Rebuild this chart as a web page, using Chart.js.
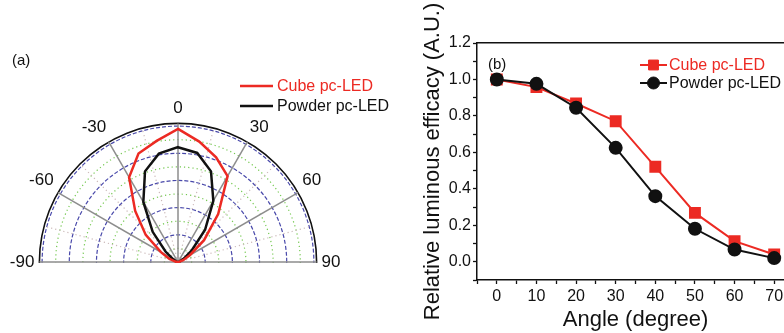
<!doctype html>
<html lang="en">
<head>
    <meta charset="utf-8">
    <title>pc-LED angular distribution</title>
    <style>
        * {
            margin: 0;
            padding: 0;
        }

        body {
            background: #fff;
            overflow: hidden;
        }

        .stage {
            position: relative;
            width: 784px;
            height: 333px;
            overflow: hidden;
            background: #fff;
        }

        .stage canvas {
            position: absolute;
        }
    </style>
</head>
<body>
<div class="stage">
    <canvas id="polarChart" width="440" height="426" style="left:-42px;top:0;"></canvas>
    <canvas id="lineChart" width="420" height="333" style="left:400px;top:0;"></canvas>
</div>
<script src="https://cdn.jsdelivr.net/npm/chart.js"></script>
<script>
    const FONT = "'Liberation Sans', Arial, sans-serif";
    const RED = '#ec2a23';
    const BLACK = '#111111';

    // (a) polar plot, angle from the normal
    const polarAngles = [-90, -80, -70, -60, -50, -40, -30, -20, -10, 0, 10, 20, 30, 40, 50, 60, 70, 80, 90];
    const cubePolar = [0, 0.02, 0.07, 0.145, 0.31, 0.49, 0.72, 0.85, 0.905, 0.98, 0.90, 0.82, 0.73, 0.46, 0.25, 0.10, 0.04, 0.01, 0];
    const powderPolar = [0, 0.005, 0.015, 0.04, 0.12, 0.29, 0.51, 0.71, 0.81, 0.845, 0.815, 0.71, 0.52, 0.31, 0.13, 0.05, 0.015, 0.005, 0];
    const polarTickLabels = [-90, -60, -30, 0, 30, 60, 90];
    const polarRings = [0, 0.1, 0.2, 0.3, 0.4, 0.5, 0.6, 0.7, 0.8, 0.9, 1.0, 1.02];

    // (b) relative luminous efficacy vs angle
    const lineAngles = [0, 10, 20, 30, 40, 50, 60, 70];
    const cubeEfficacy = [1.0, 0.958, 0.868, 0.771, 0.521, 0.268, 0.113, 0.04];
    const powderEfficacy = [1.0, 0.976, 0.845, 0.625, 0.36, 0.181, 0.067, 0.02];
    const seriesNames = ['Cube pc-LED', 'Powder pc-LED'];

    // radar needs the whole circle, so put the half-plane data into 5 degree slots
    const slotCount = 72;
    const slotLabels = [];
    for (let i = 0; i < slotCount; i++) {
        const a = i * 5;
        slotLabels.push(a > 180 ? a - 360 : a);
    }
    function toSlots(values) {
        const out = new Array(slotCount).fill(null);
        polarAngles.forEach((a, k) => {
            out[((a + 360) % 360) / 5] = values[k];
        });
        return out;
    }

    // ring style: outer frame solid black, even tenths blue dashes, odd tenths green dots
    function ringKind(v) {
        if (v > 1.001) return 'frame';
        return Math.round(v * 10) % 2 === 0 ? 'dash' : 'dot';
    }

    // legend drawn inside the plot, plus the panel tag
    const insideLegend = {
        id: 'insideLegend',
        afterDraw(chart, args, opts) {
            const {ctx} = chart;
            ctx.save();
            ctx.textBaseline = 'middle';
            if (opts.tag) {
                ctx.font = '15px ' + FONT;
                ctx.fillStyle = BLACK;
                ctx.fillText(opts.tag.text, opts.tag.x, opts.tag.y);
            }
            ctx.font = opts.fontSize + 'px ' + FONT;
            chart.data.datasets.forEach((ds, i) => {
                const y = opts.y + i * opts.rowGap;
                ctx.strokeStyle = ds.borderColor;
                ctx.lineWidth = ds.borderWidth;
                ctx.beginPath();
                ctx.moveTo(opts.x, y);
                ctx.lineTo(opts.x + opts.lineLen, y);
                ctx.stroke();
                if (ds.pointRadius) {
                    ctx.fillStyle = ds.pointBackgroundColor;
                    ctx.strokeStyle = ds.pointBorderColor;
                    ctx.lineWidth = 1;
                    Chart.helpers.drawPoint(ctx, {
                        pointStyle: ds.pointStyle,
                        radius: ds.pointRadius,
                        borderWidth: 1,
                        rotation: 0
                    }, opts.x + opts.lineLen / 2, y);
                }
                ctx.fillStyle = ds.borderColor;
                ctx.fillText(ds.label, opts.x + opts.lineLen + opts.textGap, y + 1);
            });
            ctx.restore();
        }
    };

    // only keep the upper half of the radar (plus the +-90 labels)
    const upperHalf = {
        id: 'upperHalf',
        beforeDraw(chart) {
            const {ctx, width, height} = chart;
            const r = chart.scales.r;
            const R = r.drawingArea + 3;
            ctx.save();
            ctx.beginPath();
            ctx.rect(0, 0, width, r.yCenter + 1);
            ctx.rect(0, 0, r.xCenter - R, height);
            ctx.rect(r.xCenter + R, 0, width - r.xCenter - R, height);
            ctx.clip();
        },
        afterDatasetsDraw(chart) {
            chart.ctx.restore();
        }
    };

    const polarChart = new Chart(document.getElementById('polarChart'), {
        type: 'radar',
        data: {
            labels: slotLabels,
            datasets: [{
                label: seriesNames[0],
                data: toSlots(cubePolar),
                borderColor: RED,
                borderWidth: 2.5,
                pointRadius: 0,
                pointHitRadius: 0,
                fill: false,
                spanGaps: true,
                tension: 0
            }, {
                label: seriesNames[1],
                data: toSlots(powderPolar),
                borderColor: BLACK,
                borderWidth: 2.5,
                pointRadius: 0,
                pointHitRadius: 0,
                fill: false,
                spanGaps: true,
                tension: 0
            }]
        },
        options: {
            responsive: false,
            animation: false,
            events: [],
            layout: {padding: {top: 98}},
            scales: {
                r: {
                    min: 0,
                    max: polarRings[polarRings.length - 1],
                    startAngle: 0,
                    afterBuildTicks: (s) => {
                        s.ticks = polarRings.map((v) => ({value: v}));
                    },
                    ticks: {display: false},
                    grid: {
                        circular: true,
                        color: (c) => ({frame: '#111', dash: '#4848aa', dot: '#74c850'})[ringKind(c.tick.value)],
                        lineWidth: (c) => ringKind(c.tick.value) === 'frame' ? 1.6 : 1.2
                    },
                    border: {
                        dash: (c) => ({frame: [], dash: [4, 2], dot: [1.2, 3]})[ringKind(c.tick.value)]
                    },
                    angleLines: {
                        color: (c) => {
                            const a = slotLabels[c.index];
                            if (Math.abs(a) > 90) return 'rgba(0,0,0,0)';
                            if (a % 30 === 0) return '#8d8d8d';
                            if (a % 15 === 0) return '#cbb9b9';
                            return 'rgba(0,0,0,0)';
                        },
                        lineWidth: (c) => slotLabels[c.index] % 30 === 0 ? 1.5 : 1.2,
                        borderDash: (c) => slotLabels[c.index] % 30 === 0 ? [] : [1.2, 3]
                    },
                    pointLabels: {
                        padding: 5,
                        color: BLACK,
                        font: {family: FONT, size: 17},
                        callback: (label) => polarTickLabels.includes(label) ? String(label) : ''
                    }
                }
            },
            plugins: {
                legend: {display: false},
                tooltip: {enabled: false},
                insideLegend: {
                    x: 282, y: 86, rowGap: 20, lineLen: 33, textGap: 4, fontSize: 16,
                    tag: {text: '(a)', x: 54, y: 61}
                }
            }
        },
        plugins: [upperHalf, insideLegend]
    });

    const lineChart = new Chart(document.getElementById('lineChart'), {
        type: 'line',
        data: {
            datasets: [{
                label: seriesNames[0],
                data: lineAngles.map((a, i) => ({x: a, y: cubeEfficacy[i]})),
                borderColor: RED,
                backgroundColor: RED,
                pointBackgroundColor: RED,
                pointBorderColor: RED,
                pointStyle: 'rect',
                pointRadius: 7,
                borderWidth: 2,
                tension: 0,
                order: 2
            }, {
                label: seriesNames[1],
                data: lineAngles.map((a, i) => ({x: a, y: powderEfficacy[i]})),
                borderColor: BLACK,
                backgroundColor: BLACK,
                pointBackgroundColor: BLACK,
                pointBorderColor: BLACK,
                pointStyle: 'circle',
                pointRadius: 6,
                borderWidth: 2,
                tension: 0,
                order: 1
            }]
        },
        options: {
            responsive: false,
            animation: false,
            events: [],
            layout: {padding: {top: 43, right: 26, bottom: 0, left: 0}},
            scales: {
                x: {
                    type: 'linear',
                    position: 'bottom',
                    min: -5,
                    max: 75,
                    afterFit: (s) => { s.height = 53; },
                    ticks: {
                        stepSize: 5,
                        autoSkip: false,
                        maxRotation: 0,
                        padding: 3,
                        color: BLACK,
                        font: {family: FONT, size: 16},
                        callback: (v) => (v % 10 === 0 && v >= 0 && v <= 70) ? v : ''
                    },
                    grid: {drawOnChartArea: false, tickLength: 4, tickColor: BLACK, tickWidth: 1.3},
                    border: {color: BLACK, width: 1.5},
                    title: {
                        display: true,
                        text: 'Angle (degree)',
                        color: BLACK,
                        font: {family: FONT, size: 22},
                        padding: {top: 0, bottom: 0}
                    }
                },
                x2: {
                    type: 'linear',
                    position: 'top',
                    display: true,
                    min: -5,
                    max: 75,
                    afterFit: (s) => { s.height = 0; },
                    ticks: {display: false},
                    grid: {display: false},
                    border: {color: BLACK, width: 1.5}
                },
                y: {
                    min: -0.1,
                    max: 1.2,
                    afterFit: (s) => { s.width = 77; },
                    ticks: {
                        stepSize: 0.1,
                        autoSkip: false,
                        padding: 2,
                        color: BLACK,
                        font: {family: FONT, size: 16},
                        callback: (v) => {
                            const t = Math.round(v * 10);
                            return (t % 2 === 0 && t >= 0) ? (t / 10).toFixed(1) : '';
                        }
                    },
                    grid: {drawOnChartArea: false, tickLength: 4, tickColor: BLACK, tickWidth: 1.3},
                    border: {color: BLACK, width: 1.5},
                    title: {
                        display: true,
                        text: 'Relative luminous efficacy (A.U.)',
                        color: BLACK,
                        font: {family: FONT, size: 22},
                        padding: {top: 20, bottom: 0}
                    }
                }
            },
            plugins: {
                legend: {display: false},
                tooltip: {enabled: false},
                insideLegend: {
                    x: 240, y: 65, rowGap: 18, lineLen: 27, textGap: 2, fontSize: 16,
                    tag: {text: '(b)', x: 88, y: 65}
                }
            }
        },
        plugins: [insideLegend]
    });
</script>
</body>
</html>
